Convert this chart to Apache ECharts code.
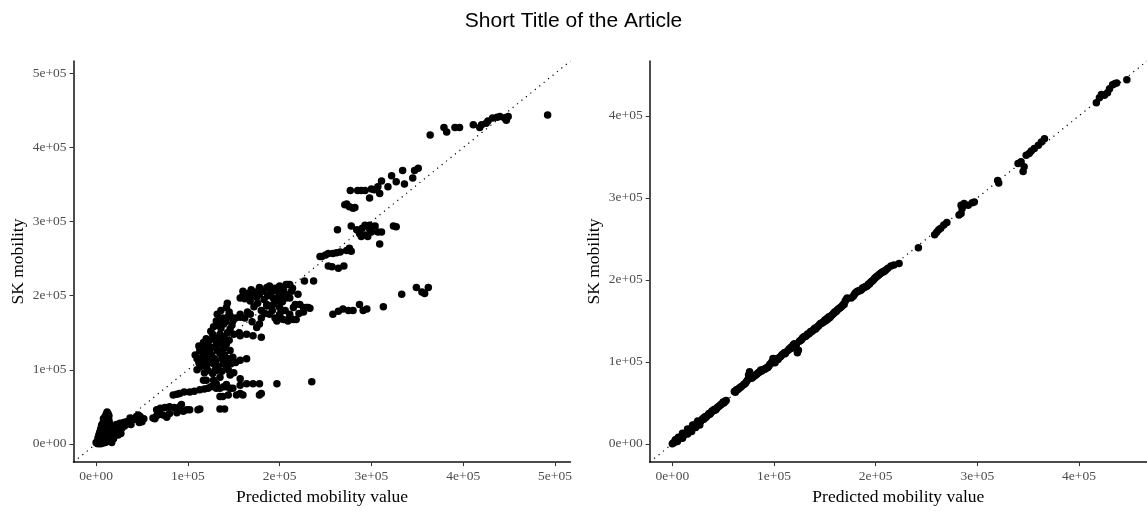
<!DOCTYPE html>
<html>
<head>
<meta charset="utf-8">
<script src="https://cdn.jsdelivr.net/npm/echarts@6/dist/echarts.min.js"></script>
<style>
html,body{margin:0;padding:0;background:#fff;}
#chart{width:1147px;height:511px;}
</style>
</head>
<body>
<div id="chart"></div>
<script>
const titleText = "Short Title of the Article";
const xAxisTitle = "Predicted mobility value";
const yAxisTitle = "SK mobility";

const leftTicks = [0, 100000, 200000, 300000, 400000, 500000];
const leftTickLabels = ["0e+00", "1e+05", "2e+05", "3e+05", "4e+05", "5e+05"];
const rightTicks = [0, 100000, 200000, 300000, 400000];
const rightTickLabels = ["0e+00", "1e+05", "2e+05", "3e+05", "4e+05"];

const leftLimits = [-24615, 516915];
const rightLimits = [-22230, 466830];

// Left panel: [predicted, SK mobility]
const leftPoints = [
[1000,1000],[2000,3000],[3000,5000],[2000,8000],[4000,10000],[5000,13000],[4000,16000],[6000,19000],[7000,22000],[6000,25000],
[8000,28000],[9000,31000],[8000,34000],[10000,37000],[11000,40000],[12000,43000],[13000,41000],[12000,36000],[10000,30000],[11000,24000],
[9000,18000],[7000,12000],[5000,6000],[3000,2000],[6000,3000],[8000,7000],[10000,10000],[12000,14000],[13000,18000],[14000,22000],
[15000,27000],[14000,32000],[12000,20000],[15000,12000],[17000,9000],[16000,5000],[13000,4000],[10000,2000],[7000,1000],[9000,15000],
[11000,33000],[14000,38000],[16000,16000],[18000,13000],[4000,1000],[6000,9000],[8000,23000],[13000,30000],
[3000,12000],[5000,20000],[7000,27000],[9000,35000],[11000,28000],[13000,26000],[15000,20000],[16000,24000],[18000,18000],[20000,20000],
[22000,14000],[17000,2000],[14000,8000],[11000,6000],[2000,0],[0,2000],[5000,0],
[20000,11000],[22000,16000],[25000,19000],[28000,21000],[24000,12000],[19000,7000],[27000,14000],
[22000,26000],[26000,28000],[30000,29000],[33000,30000],[37000,35000],[41000,33000],[44000,37000],[48000,37000],[46000,39000],[50000,30000],
[38000,26000],[34000,27000],[52000,34000],[47000,29000],[31000,24000],
[62000,35000],[66000,38000],[70000,40000],[73000,39000],[80000,41000],[66000,46000],[70000,48000],[75000,49000],[80000,50000],[85000,49000],
[91000,50000],[93000,53000],[95000,44000],[99000,46000],[102000,46000],[111000,46000],[113000,47000],[135000,47000],[140000,47000],[64000,34000],
[77000,36000],[88000,42000],
[84000,66000],[88000,67000],[91000,68000],[96000,70000],[102000,70000],[107000,71000],[113000,73000],[118000,74000],[122000,75000],[125000,77000],
[128000,79000],[131000,75000],[135000,75000],[139000,77000],[142000,77000],[146000,75000],[149000,75000],[120000,86000],[138000,64000],[144000,66000],
[153000,66000],[160000,66000],[178000,66000],[135000,64000],[157000,68000],
[117000,86000],[128000,86000],[131000,81000],[142000,80000],[157000,88000],[164000,81000],[171000,81000],[178000,81000],[157000,79000],[197000,81000],
[235000,84000],[180000,68000],
[113000,104000],[117000,108000],[122000,99000],[128000,108000],[131000,99000],[135000,90000],[139000,108000],[142000,104000],[146000,93000],[150000,96000],
[113000,126000],[120000,130000],[124000,122000],[131000,133000],[135000,122000],[142000,135000],[146000,126000],[117000,137000],[120000,142000],[128000,144000],
[135000,148000],[146000,155000],[139000,162000],[131000,166000],[149000,166000],[157000,171000],[142000,184000],[146000,173000],[135000,168000],[110000,115000],
[116000,118000],[124000,117000],[130000,112000],[137000,115000],[126000,130000],[138000,128000],[145000,140000],[150000,148000],[140000,142000],[125000,152000],
[128000,158000],[136000,156000],[132000,175000],[138000,170000],[108000,120000],[112000,132000],[119000,112000],[127000,95000],[144000,115000],[149000,117000],
[157000,113000],[164000,115000],[152000,110000],[156000,150000],[143000,190000],[145000,178000],[118000,96000],[130000,100000],[133000,138000],[140000,120000],
[110000,100000],[115000,110000],[120000,104000],[125000,110000],[133000,105000],[137000,98000],[144000,100000],[126000,120000],[132000,126000],[140000,130000],
[118000,125000],[122000,135000],[130000,140000],[137000,145000],[143000,150000],[127000,148000],[133000,160000],[141000,165000],[148000,160000],[152000,170000],
[136000,180000],[144000,172000],[115000,130000],[121000,118000],[129000,115000],[141000,112000],[147000,108000],[112000,110000],[123000,140000],[138000,135000],
[157000,146000],[164000,148000],[171000,146000],[180000,144000],[175000,157000],[178000,162000],[160000,200000],[169000,200000],[178000,202000],[187000,200000],
[193000,197000],[197000,206000],[200000,200000],[207000,202000],[160000,206000],[169000,208000],[178000,211000],[186000,211000],[189000,213000],[200000,213000],
[209000,215000],[211000,215000],[217000,188000],[222000,188000],[231000,184000],[186000,186000],[193000,188000],[200000,184000],[180000,180000],[189000,175000],
[200000,175000],[211000,175000],[218000,168000],[197000,166000],[209000,166000],[157000,175000],[168000,193000],[157000,197000],[186000,188000],[197000,193000],
[215000,184000],[211000,171000],[200000,173000],[207000,197000],[204000,168000],[215000,168000],[220000,202000],[229000,184000],[233000,183000],[226000,184000],
[211000,197000],[207000,215000],[227000,220000],[237000,220000],[172000,185000],[165000,178000],[183000,195000],[213000,206000],
[165000,203000],[173000,205000],[182000,206000],[191000,207000],[195000,210000],[204000,208000],[214000,210000],[162000,196000],[175000,198000],[190000,203000],
[203000,192000],[176000,190000],[192000,180000],[206000,180000],[184000,176000],[195000,170000],[221000,176000],[226000,178000],[168000,175000],[162000,170000],
[170000,165000],[180000,170000],
[258000,175000],[264000,179000],[269000,182000],[275000,180000],[280000,180000],[287000,188000],[291000,180000],[295000,182000],[313000,185000],[333000,202000],
[349000,211000],[358000,203000],[362000,211000],[355000,205000],
[244000,253000],[246000,253000],[250000,255000],[253000,257000],[258000,257000],[262000,258000],[266000,259000],[273000,261000],[278000,260000],[276000,264000],
[253000,240000],[257000,239000],[264000,237000],[270000,240000],
[263000,289000],[278000,294000],[284000,289000],[287000,284000],[293000,295000],[298000,295000],[304000,294000],[300000,286000],[307000,286000],[293000,282000],
[296000,280000],[289000,280000],[311000,286000],[309000,270000],[324000,294000],[327000,293000],[298000,290000],[290000,291000],
[271000,323000],[276000,320000],[282000,319000],[273000,324000],[280000,318000],[277000,342000],[285000,342000],[293000,342000],[300000,344000],[298000,332000],
[307000,347000],[309000,338000],[311000,355000],[318000,347000],[322000,362000],[327000,354000],[334000,369000],[336000,351000],[345000,359000],[347000,369000],
[351000,372000],[289000,342000],[303000,343000],
[364000,417000],[379000,427000],[382000,421000],[391000,427000],[396000,427000],[411000,431000],[418000,427000],[420000,431000],[427000,436000],[432000,440000],
[437000,441000],[447000,437000],[449000,442000],[445000,440000],[492000,444000],[425000,433000],[440000,442000]
];

// Right panel: [predicted, SK mobility]
const rightPoints = [
[0,0],[1000,1000],[2000,2000],[3000,3000],[4000,4000],[5000,5000],[6000,6000],[7000,7000],[8000,8000],[9000,8000],
[10000,10000],[11000,10000],[12000,12000],[13000,13000],[14000,13000],[15000,15000],[16000,16000],[17000,16000],[18000,18000],[19000,19000],
[20000,20000],[21000,22000],[22000,21000],[23000,23000],[24000,25000],[25000,24000],[26000,27000],[27000,26000],[28000,28000],[29000,29000],
[30000,31000],[31000,30000],[32000,33000],[33000,32000],[35000,35000],[36000,37000],[38000,38000],[40000,40000],[41000,42000],[43000,42000],
[45000,45000],[47000,47000],[49000,49000],[50000,51000],[52000,52000],[3000,5000],[6000,8000],[10000,13000],[15000,18000],[20000,23000],
[25000,28000],[5000,3000],[10000,7000],[15000,12000],[19000,15000],[23000,20000],[27000,23000],
[34000,34000],[37000,36000],[39000,40000],[42000,41000],[44000,44000],[46000,46000],[48000,48000],[51000,50000],[53000,53000],
[61000,64000],[63000,66000],[65000,67000],[67000,69000],[70000,72000],[72000,74000],[74000,78000],[75000,84000],[76000,88000],[77000,82000],
[78000,80000],[80000,82000],[83000,85000],[85000,87000],[87000,90000],[89000,90000],[92000,92000],[94000,93000],[96000,97000],[98000,100000],
[99000,104000],[100000,103000],[101000,99000],
[62000,63000],[64000,66000],[66000,68000],[68000,70000],[71000,73000],[73000,76000],[79000,81000],[81000,83000],[82000,84000],[84000,86000],
[86000,88000],[88000,89000],[90000,91000],[91000,91000],[93000,93000],[95000,95000],[97000,98000],
[102000,102000],[104000,103000],[106000,106000],[108000,109000],[110000,111000],[112000,112000],[114000,114000],[116000,116000],[118000,117000],[119000,121000],
[121000,120000],[123000,111000],[124000,114000],[125000,125000],[127000,127000],[129000,130000],[131000,131000],[133000,134000],[135000,135000],[137000,137000],
[139000,139000],[141000,140000],[143000,143000],[145000,146000],[147000,147000],[149000,149000],
[103000,104000],[107000,107000],[111000,110000],[115000,116000],[117000,118000],[120000,122000],[122000,121000],[126000,126000],[128000,129000],[130000,131000],
[132000,132000],[134000,134000],[136000,137000],[138000,138000],[140000,141000],[142000,142000],[144000,144000],[146000,147000],[148000,148000],
[151000,150000],[153000,152000],[155000,154000],[157000,157000],[159000,160000],[161000,161000],[163000,164000],[165000,166000],[167000,168000],[169000,170000],
[170000,174000],[172000,178000],[178000,180000],[180000,184000],[182000,186000],[184000,187000],[186000,188000],[188000,190000],[190000,192000],[192000,193000],
[194000,195000],[196000,198000],[198000,200000],[200000,203000],[202000,205000],[204000,207000],[206000,209000],[208000,210000],[210000,212000],
[150000,151000],[152000,153000],[154000,155000],[156000,156000],[158000,158000],[160000,161000],[162000,163000],[164000,165000],[166000,167000],[168000,170000],
[171000,176000],[176000,178000],[179000,182000],[181000,185000],[183000,186000],[185000,187000],[187000,190000],[189000,191000],[191000,192000],[193000,195000],
[195000,197000],[197000,199000],[199000,202000],[201000,204000],[203000,206000],[205000,208000],[207000,210000],[209000,211000],[212000,214000],
[215000,217000],[218000,218000],[223000,220000],[242000,239000],[258000,255000],[260000,258000],[262000,261000],[264000,263000],[267000,267000],[270000,270000],
[282000,279000],[284000,281000],[285000,287000],[284000,291000],[287000,293000],[291000,291000],[295000,294000],[297000,295000],[320000,321000],[321000,318000],
[340000,342000],[343000,344000],[345000,332000],[346000,338000],[348000,352000],[351000,354000],[353000,357000],[356000,360000],[360000,364000],[363000,368000],
[366000,372000],[417000,416000],[420000,422000],[422000,426000],[425000,425000],[428000,428000],[430000,433000],[433000,438000],[435000,439000],[437000,440000],
[447000,444000]
];

const serif = "'Liberation Serif', 'Times New Roman', serif";

function makeAxis(gridIndex, limits, ticks, labels, title, gap) {
  return {
    type: 'value', gridIndex: gridIndex, min: limits[0], max: limits[1],
    name: title, nameLocation: 'middle', nameGap: gap,
    nameTextStyle: {fontFamily: serif, fontSize: 17.5, color: '#000'},
    axisLine: {show: true, onZero: false, lineStyle: {color: '#111', width: 1.5}},
    axisTick: {show: true, length: 4, customValues: ticks, lineStyle: {color: '#333', width: 1}},
    axisLabel: {show: true, margin: 7, customValues: ticks, fontFamily: serif, fontSize: 13.5, color: '#4d4d4d',
      formatter: function (v) { const i = ticks.indexOf(v); return i >= 0 ? labels[i] : ''; }},
    splitLine: {show: false}
  };
}

const chart = echarts.init(document.getElementById('chart'), null, {renderer: 'canvas'});
chart.setOption({
  animation: false,
  backgroundColor: '#fff',
  title: {text: titleText, left: 'center', top: 6,
    textStyle: {fontFamily: "'Liberation Sans', Arial, sans-serif", fontSize: 21, fontWeight: 'normal', color: '#000'}},
  grid: [
    {left: 73.5, top: 61, width: 497, height: 404.7, containLabel: false},
    {left: 649.7, top: 61, width: 497.3, height: 404.7, containLabel: false}
  ],
  xAxis: [makeAxis(0, leftLimits, leftTicks, leftTickLabels, xAxisTitle, 22),
          makeAxis(1, rightLimits, rightTicks, rightTickLabels, xAxisTitle, 22)],
  yAxis: [makeAxis(0, leftLimits, leftTicks, leftTickLabels, yAxisTitle, 46),
          makeAxis(1, rightLimits, rightTicks, rightTickLabels, yAxisTitle, 46)],
  series: [
    {type: 'scatter', xAxisIndex: 0, yAxisIndex: 0, data: leftPoints, symbol: 'circle', symbolSize: 7.5,
      itemStyle: {color: '#000', opacity: 1}, silent: true, z: 2},
    {type: 'scatter', xAxisIndex: 1, yAxisIndex: 1, data: rightPoints, symbol: 'circle', symbolSize: 7.5,
      itemStyle: {color: '#000', opacity: 1}, silent: true, z: 2},
    {type: 'line', xAxisIndex: 0, yAxisIndex: 0, data: [[leftLimits[0], leftLimits[0]], [leftLimits[1], leftLimits[1]]],
      symbol: 'none', silent: true, lineStyle: {color: '#000', width: 1.2, type: [1.2, 4.5]}, z: 3},
    {type: 'line', xAxisIndex: 1, yAxisIndex: 1, data: [[rightLimits[0], rightLimits[0]], [rightLimits[1], rightLimits[1]]],
      symbol: 'none', silent: true, lineStyle: {color: '#000', width: 1.2, type: [1.2, 4.5]}, z: 3}
  ]
});
</script>
</body>
</html>
